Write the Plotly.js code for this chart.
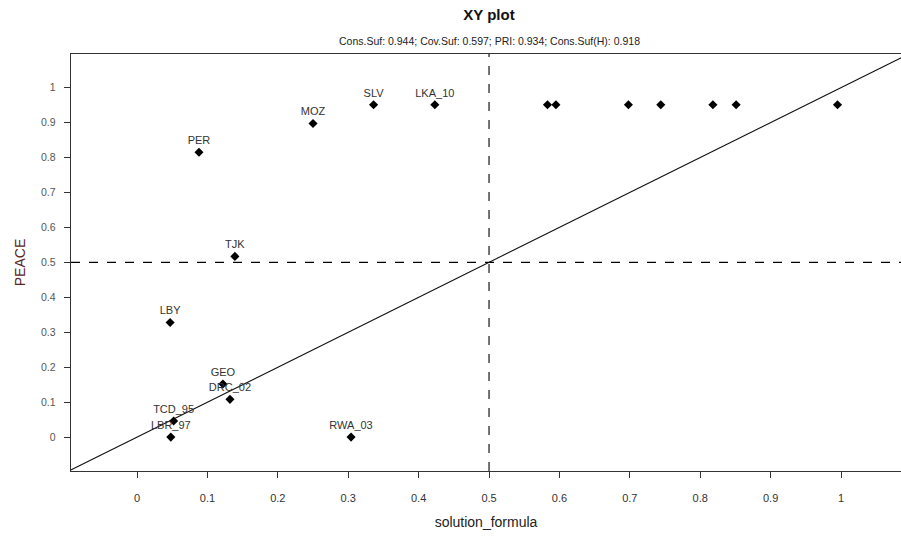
<!DOCTYPE html>
<html>
<head>
<meta charset="utf-8">
<script src="https://cdn.plot.ly/plotly-3.0.1.min.js"></script>
<style>html,body{margin:0;padding:0;background:#fff;}</style>
</head>
<body>
<div id="chart" style="width:901px;height:538px;"></div>
<script>
// Data
const caseLabels = ["PER","MOZ","SLV","LKA_10","","","","","","","","TJK","LBY","GEO","DRC_02","TCD_95","LBR_97","RWA_03"];
const solutionFormula = [0.088,0.250,0.336,0.423,0.583,0.595,0.698,0.744,0.818,0.851,0.995,0.139,0.047,0.122,0.132,0.052,0.048,0.304];
const peace = [0.815,0.897,0.951,0.951,0.951,0.951,0.951,0.951,0.951,0.951,0.951,0.517,0.328,0.152,0.108,0.046,0.0,0.0];
const xTicks = [0,0.1,0.2,0.3,0.4,0.5,0.6,0.7,0.8,0.9,1];
const yTicks = [0,0.1,0.2,0.3,0.4,0.5,0.6,0.7,0.8,0.9,1];
const xTickText = ["0","0.1","0.2","0.3","0.4","0.5","0.6","0.7","0.8","0.9","1"];
const yTickText = ["0","0.1","0.2","0.3","0.4","0.5","0.6","0.7","0.8","0.9","1"];
const threshold = 0.5;
const xRange = [-0.0938, 1.0852];
const yRange = [-0.097, 1.096];
const subtitle = "Cons.Suf: 0.944; Cov.Suf: 0.597; PRI: 0.934; Cons.Suf(H): 0.918";

const font = "Liberation Sans, Arial, sans-serif";
const narrow = "Liberation Sans Narrow, Arial Narrow, Liberation Sans, Arial, sans-serif";

const traces = [
  {
    x: [-0.2, 1.2], y: [-0.2, 1.2], mode: "lines",
    line: {color: "#111", width: 1.1}, hoverinfo: "skip", showlegend: false
  },
  {
    x: solutionFormula, y: peace, text: caseLabels,
    mode: "markers+text", textposition: "top center",
    textfont: {family: font, size: 11, color: "#333"},
    marker: {symbol: "diamond", size: 7, color: "#000"},
    showlegend: false, cliponaxis: false
  }
];

const layout = {
  width: 901, height: 538,
  margin: {l: 71, r: 0, t: 54, b: 67},
  paper_bgcolor: "#fff", plot_bgcolor: "#fff",
  font: {family: font, color: "#333"},
  title: {
    text: "<b>XY plot</b>", font: {family: font, size: 15, color: "#111"},
    x: 489/901, xanchor: "center", xref: "container",
    y: 1 - 15/538, yanchor: "middle", yref: "container"
  },
  annotations: [{
    text: subtitle, xref: "paper", yref: "paper",
    x: (489-71)/830, y: 1 + (54-41)/417, xanchor: "center", yanchor: "middle",
    showarrow: false, font: {family: font, size: 10.5, color: "#222"}
  }],
  xaxis: {
    range: xRange, tickvals: xTicks, ticktext: xTickText,
    showgrid: false, zeroline: false,
    showline: true, mirror: true, linecolor: "#333", linewidth: 1.3,
    ticks: "outside", ticklen: 6, tickcolor: "#333", tickwidth: 1,
    ticklabelstandoff: 10,
    tickfont: {family: narrow, size: 11, color: "#333"},
    title: {text: "solution_formula", font: {family: narrow, size: 14, color: "#222"}, standoff: 14}
  },
  yaxis: {
    range: yRange, tickvals: yTicks, ticktext: yTickText,
    showgrid: false, zeroline: false,
    showline: true, mirror: false, linecolor: "#333", linewidth: 1.3,
    ticks: "outside", ticklen: 6, tickcolor: "#333", tickwidth: 1,
    ticklabelstandoff: 6,
    tickfont: {family: font, size: 10.5, color: "#555"},
    title: {text: "PEACE", font: {family: font, size: 14, color: "#5a2424"}, standoff: 12}
  },
  shapes: [
    {type: "line", xref: "x", yref: "paper", x0: threshold, x1: threshold, y0: 0, y1: 1,
     line: {color: "#000", width: 1.1, dash: "dash"}},
    {type: "line", xref: "paper", yref: "y", x0: 0, x1: 1, y0: threshold, y1: threshold,
     line: {color: "#000", width: 1.1, dash: "dash"}}
  ]
};

Plotly.newPlot("chart", traces, layout, {displayModeBar: false, staticPlot: true});
</script>
</body>
</html>
